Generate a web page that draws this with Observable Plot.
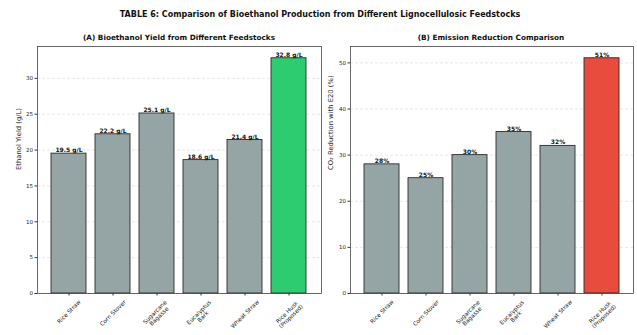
<!DOCTYPE html>
<html>
<head>
<meta charset="utf-8">
<script src="https://cdn.jsdelivr.net/npm/d3@7"></script>
<script src="https://cdn.jsdelivr.net/npm/@observablehq/plot@0.6"></script>
<style>
  body { margin: 0; background: #fff; font-family: "DejaVu Sans", sans-serif; }
  #root { position: relative; width: 637px; height: 335px; overflow: hidden; }
  .t { position: absolute; white-space: nowrap; font-weight: bold; color: #111; line-height: 1; transform: translate(-50%, -50%); }
  .panel { position: absolute; top: 41px; }
</style>
</head>
<body>
<div id="root">
  <div class="t" style="left:320px;top:15px;font-size:8px">TABLE 6: Comparison of Bioethanol Production from Different Lignocellulosic Feedstocks</div>
  <div class="t" style="left:179px;top:37.5px;font-size:7.3px">(A) Bioethanol Yield from Different Feedstocks</div>
  <div class="t" style="left:491px;top:37.5px;font-size:7.3px">(B) Emission Reduction Comparison</div>
  <div class="panel" id="left" style="left:0px"></div>
  <div class="panel" id="right" style="left:322px"></div>
</div>
<script>
const categories = ["Rice Straw", "Corn Stover", "Sugarcane\nBagasse", "Eucalyptus\nBark", "Wheat Straw", "Rice Husk\n(Proposed)"];
const yieldValues = [19.5, 22.2, 25.1, 18.6, 21.4, 32.8];
const yieldLabels = ["19.5 g/L", "22.2 g/L", "25.1 g/L", "18.6 g/L", "21.4 g/L", "32.8 g/L"];
const reductionValues = [28, 25, 30, 35, 32, 51];
const reductionLabels = ["28%", "25%", "30%", "35%", "32%", "51%"];
const yieldColors = ["#95a5a6", "#95a5a6", "#95a5a6", "#95a5a6", "#95a5a6", "#2ecc71"];
const reductionColors = ["#95a5a6", "#95a5a6", "#95a5a6", "#95a5a6", "#95a5a6", "#e74c3c"];
const yieldTicks = [0, 5, 10, 15, 20, 25, 30];
const reductionTicks = [0, 10, 20, 30, 40, 50];

const XFONT = 5.8;
const ctx = document.createElement("canvas").getContext("2d");
ctx.font = `${XFONT}px "DejaVu Sans"`;
// rotated (45°) center-aligned tick labels: place the text block centre so that its bbox top sits below the axis
function xLabelMarks(cats) {
  return cats.map(c => {
    const lines = c.split("\n");
    const W = d3.max(lines, l => ctx.measureText(l).width);
    const H = lines.length * XFONT * 1.2;
    const half = (W + H) * Math.SQRT1_2 / 2;
    return Plot.text([c], {x: d => d, text: d => d, frameAnchor: "bottom", rotate: -45,
      textAnchor: "middle", lineAnchor: "middle", dy: 5 + half, fontSize: XFONT, fill: "#222"});
  });
}

function panel({values, labels, colors, ticks, yLabel, yLabelDx, width, marginLeft, marginRight}) {
  const data = categories.map((c, i) => ({cat: c, v: values[i], label: labels[i], color: colors[i]}));
  const ymax = d3.max(values) * 1.05;
  return Plot.plot({
    width, height: 294,
    marginTop: 5, marginBottom: 42, marginLeft, marginRight,
    style: {fontFamily: "DejaVu Sans, sans-serif", background: "white", color: "#222"},
    x: {type: "band", domain: categories, paddingInner: 0.2, paddingOuter: 0.29, axis: null},
    y: {domain: [0, ymax], axis: null},
    color: {type: "identity"},
    marks: [
      Plot.gridY(ticks, {stroke: "#b0b0b0", strokeOpacity: 0.5, strokeDasharray: "3,2", strokeWidth: 0.6}),
      Plot.barY(data, {x: "cat", y: "v", fill: "color", stroke: "#2b2b2b", strokeWidth: 0.9}),
      Plot.text(data, {x: "cat", y: "v", text: "label", dy: -1.5, lineAnchor: "bottom", fontWeight: "bold", fontSize: 6, fill: "#111"}),
      Plot.axisY({ticks, tickSize: 2.5, tickPadding: 2, fontSize: 5.5, label: null, stroke: "#333"}),
      Plot.axisX({tickSize: 2.5, tickFormat: () => "", label: null, stroke: "#333"}),
      ...xLabelMarks(categories),
      Plot.text([yLabel], {frameAnchor: "left", rotate: -90, dx: yLabelDx, fontSize: 6.8, fill: "#222"}),
      Plot.frame({stroke: "#444", strokeWidth: 0.8})
    ]
  });
}

document.getElementById("left").append(panel({
  values: yieldValues, labels: yieldLabels, colors: yieldColors, ticks: yieldTicks,
  yLabel: "Ethanol Yield (g/L)", yLabelDx: -19, width: 322, marginLeft: 37, marginRight: 1
}));
document.getElementById("right").append(panel({
  values: reductionValues, labels: reductionLabels, colors: reductionColors, ticks: reductionTicks,
  yLabel: "CO₂ Reduction with E20 (%)", yLabelDx: -20, width: 315, marginLeft: 28, marginRight: 4
}));
</script>
</body>
</html>
